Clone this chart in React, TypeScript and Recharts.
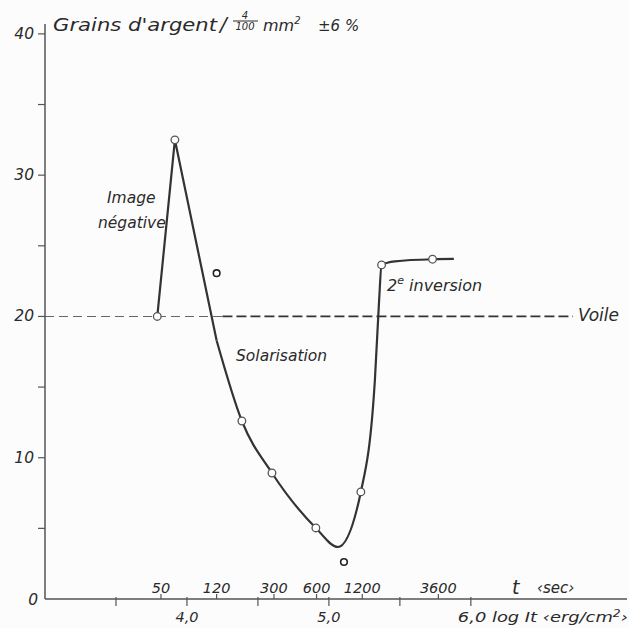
import React from "react";
import {
  ComposedChart,
  Line,
  Scatter,
  XAxis,
  YAxis,
  ReferenceLine,
} from "recharts";

// measured points (log It, grains)
const pointX = [3.791, 3.915, 4.387, 4.599, 4.908, 5.225, 5.371, 5.73];
const pointY = [20.0, 32.5, 12.6, 8.92, 5.03, 7.58, 23.65, 24.05];
// points left off the curve
const strayX = [4.209, 5.106];
const strayY = [23.06, 2.62];

// hand-drawn curve: straight peak, then smooth
const peakX = [3.791, 3.915, 4.209];
const peakY = [20.0, 32.5, 18.3];
const curveX = [4.209, 4.387, 4.599, 4.908, 5.063, 5.225, 5.324, 5.354, 5.371, 5.465, 5.73, 5.88];
const curveY = [18.3, 12.6, 8.92, 5.03, 3.68, 7.58, 15.5, 21.2, 23.65, 23.9, 24.05, 24.07];

const logTicks = [3.5, 4, 4.5, 5, 5.5, 6];
const logLabels = ["", "4,0", "", "5,0", "", "6,0"];
const tTicks = [3.817, 4.209, 4.613, 4.913, 5.235, 5.771];
const tLabels = ["50", "120", "300", "600", "1200", "3600"];
const yTicks = [0, 5, 10, 15, 20, 25, 30, 35, 40];
const voile = 20;

const ink = "#2a2a2a";
const font = "'DejaVu Sans', sans-serif";

const zip = (xs: number[], ys: number[]) => xs.map((x, i) => ({ x, y: ys[i] }));

function XTick(props: any) {
  const { x, y, payload } = props;
  const v = payload.value;
  const ti = tTicks.indexOf(v);
  if (ti >= 0) {
    return (
      <g>
        <line x1={x} x2={x} y1={y - 5} y2={y} stroke="#555" strokeWidth={1.2} />
        <text x={x} y={y - 6} textAnchor="middle" fontSize={14.5} fontStyle="italic" fill={ink} fontFamily={font}>
          {tLabels[ti]}
        </text>
      </g>
    );
  }
  const li = logTicks.indexOf(v);
  const label = logLabels[li];
  return (
    <g>
      <line x1={x} x2={x} y1={y - 2} y2={y + 7} stroke="#555" strokeWidth={1.2} />
      {label === "6,0" ? (
        <text x={x - 13} y={y + 23} fontSize={14.5} fontStyle="italic" fill={ink} fontFamily={font} textLength={170} lengthAdjust="spacingAndGlyphs">
          6,0 log It ‹erg/cm<tspan dy={-5} fontSize={10}>2</tspan><tspan dy={5}>›</tspan>
        </text>
      ) : (
        <text x={x} y={y + 23} textAnchor="middle" fontSize={14.5} fontStyle="italic" fill={ink} fontFamily={font}>
          {label}
        </text>
      )}
    </g>
  );
}

function YTick(props: any) {
  const { x, y, payload } = props;
  const v = payload.value;
  if (v === 0) {
    return (
      <text x={x - 7} y={y + 6} textAnchor="end" fontSize={15.5} fontStyle="italic" fill={ink} fontFamily={font}>
        0
      </text>
    );
  }
  return (
    <g>
      <line x1={x - 7} x2={x} y1={y} y2={y} stroke="#555" strokeWidth={1.2} />
      {v % 10 === 0 && (
        <text x={x - 11} y={y + 5} textAnchor="end" fontSize={15.5} fontStyle="italic" fill={ink} fontFamily={font}>
          {v}
        </text>
      )}
    </g>
  );
}

const openDot = (p: any) => (
  <circle cx={p.cx} cy={p.cy} r={3.8} fill="#fff" stroke="#555" strokeWidth={1.3} />
);
const strayDot = (p: any) => (
  <circle cx={p.cx} cy={p.cy} r={3.3} fill="#fff" stroke="#222" strokeWidth={1.6} />
);

export default function App() {
  const txt = { fontFamily: font, fontStyle: "italic" as const, fill: ink };
  return (
    <div style={{ position: "absolute", left: 0, top: 0, width: 630, height: 628, background: "#fcfcfc" }}>
      <ComposedChart width={630} height={628} margin={{ top: 24, right: 3, bottom: 0, left: 0 }}>
        <XAxis
          type="number"
          dataKey="x"
          domain={[3, 7.1]}
          ticks={[...logTicks, ...tTicks].sort((a, b) => a - b)}
          interval={0}
          tick={<XTick />}
          tickLine={false}
          tickSize={0}
          tickMargin={0}
          height={29}
          axisLine={{ stroke: "#555", strokeWidth: 1.5 }}
          allowDataOverflow
        />
        <YAxis
          type="number"
          dataKey="y"
          domain={[0, 40.7]}
          ticks={yTicks}
          interval={0}
          tick={<YTick />}
          tickLine={false}
          tickSize={0}
          tickMargin={0}
          width={45}
          axisLine={{ stroke: "#555", strokeWidth: 1.5 }}
          allowDataOverflow
        />
        <ReferenceLine
          segment={[{ x: 3, y: voile }, { x: 4.25, y: voile }]}
          stroke="#666"
          strokeWidth={1.1}
          strokeDasharray="9 5"
        />
        <ReferenceLine
          segment={[{ x: 4.25, y: voile }, { x: 6.72, y: voile }]}
          stroke="#333"
          strokeWidth={1.7}
          strokeDasharray="10 4"
        />
        <Line data={zip(peakX, peakY)} dataKey="y" type="linear" stroke="#333" strokeWidth={2.2} dot={false} isAnimationActive={false} />
        <Line data={zip(curveX, curveY)} dataKey="y" type="monotone" stroke="#333" strokeWidth={2.2} dot={false} isAnimationActive={false} />
        <Scatter data={zip(pointX, pointY)} dataKey="y" shape={openDot} isAnimationActive={false} />
        <Scatter data={zip(strayX, strayY)} dataKey="y" shape={strayDot} isAnimationActive={false} />
      </ComposedChart>
      <svg width={630} height={628} style={{ position: "absolute", left: 0, top: 0, pointerEvents: "none" }}>
        <text x={53} y={31} fontSize={18} textLength={164} lengthAdjust="spacingAndGlyphs" {...txt}>Grains d'argent</text>
        <text x={220} y={31} fontSize={20} {...txt}>/</text>
        <text x={245} y={19} fontSize={10} textAnchor="middle" {...txt}>4</text>
        <line x1={233} x2={258} y1={21} y2={21} stroke={ink} strokeWidth={1} />
        <text x={245} y={30} fontSize={10} textAnchor="middle" {...txt}>100</text>
        <text x={263} y={31} fontSize={16} {...txt}>mm<tspan dy={-7} fontSize={10}>2</tspan></text>
        <text x={318} y={31} fontSize={15} {...txt}>±6 %</text>
        <text x={107} y={203} fontSize={15.5} {...txt}>Image</text>
        <text x={98} y={228} fontSize={15.5} {...txt}>négative</text>
        <text x={236} y={361} fontSize={15.5} {...txt}>Solarisation</text>
        <text x={387} y={291} fontSize={16} {...txt}>2<tspan dy={-7} fontSize={11}>e</tspan><tspan dy={7}> inversion</tspan></text>
        <text x={578} y={321} fontSize={17} {...txt}>Voile</text>
        <text x={512} y={594} fontSize={19} {...txt}>t</text>
        <text x={537} y={593} fontSize={15} {...txt}>‹sec›</text>
      </svg>
    </div>
  );
}
